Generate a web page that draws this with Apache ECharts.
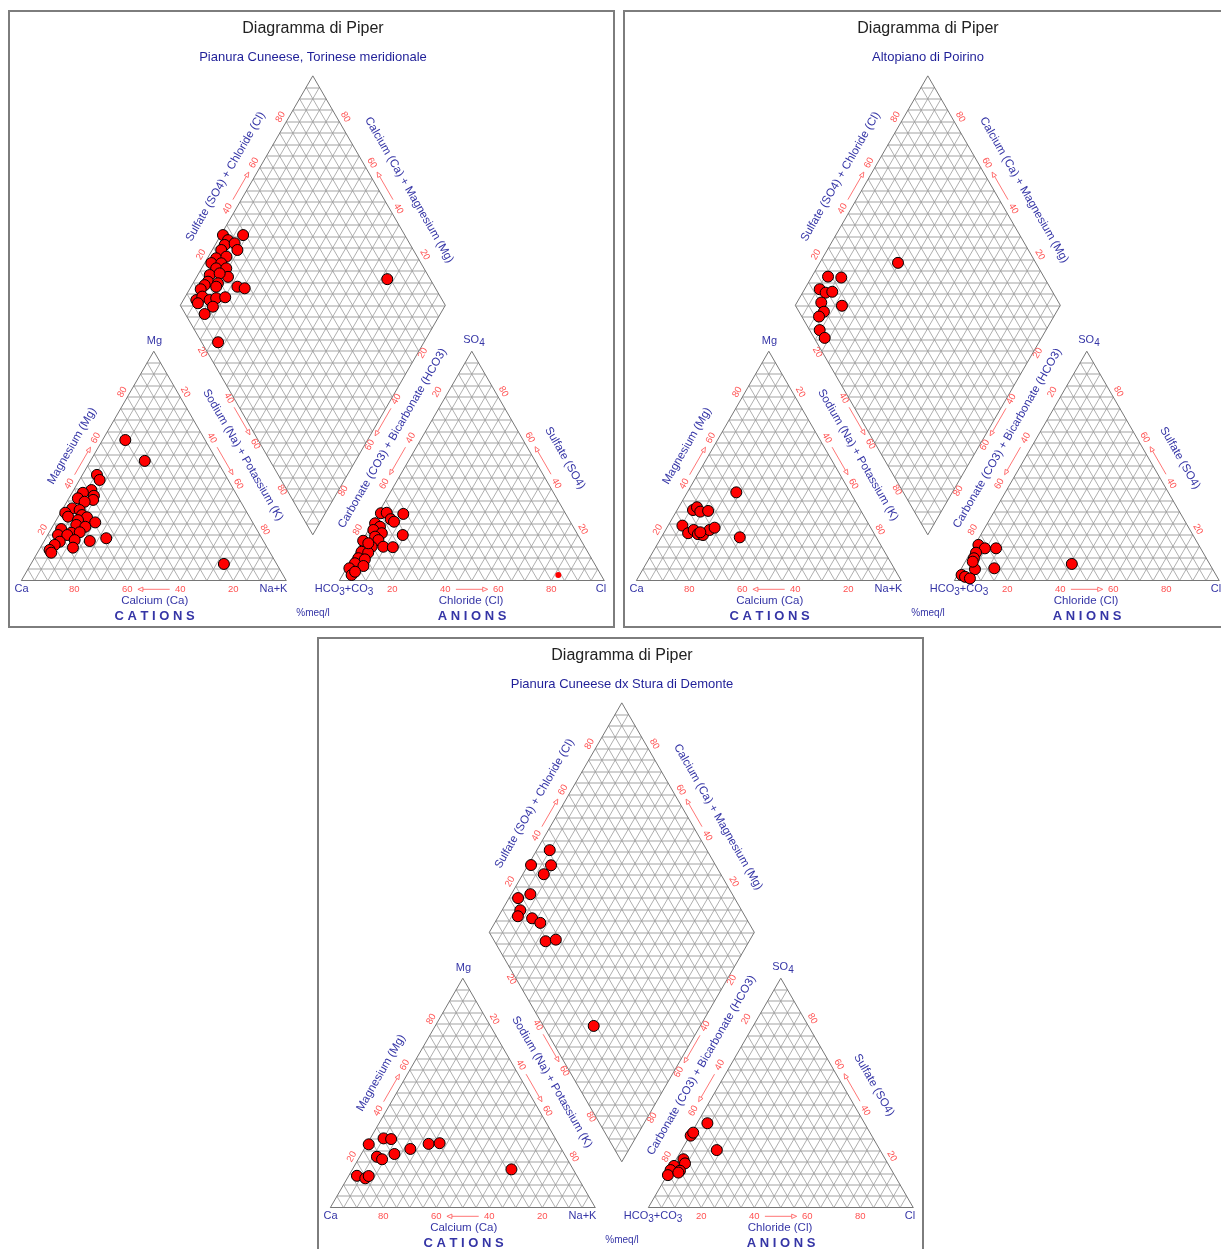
<!DOCTYPE html>
<html><head><meta charset="utf-8">
<script src="https://cdn.jsdelivr.net/npm/echarts@6/dist/echarts.min.js"></script>
<style>html,body{margin:0;padding:0;background:#fff}#c{width:1221px;height:1249px}</style>
</head><body><div id="c"></div>
<script>
// ---------------- DATA ----------------
const panelTitle = 'Diagramma di Piper';
const panelSubtitles = ['Pianura Cuneese, Torinese meridionale', 'Altopiano di Poirino', 'Pianura Cuneese dx Stura di Demonte'];
const tickValues = [20, 40, 60, 80];

// Cations: [Ca %, Mg %, Na+K %]
const cationsP1 = [[30.1,61.3,8.6],[27.3,52.2,20.5],[48.4,46.1,5.5],[48.5,43.9,7.6],[53.8,39.5,6.7],[54.1,37.0,8.9],[55.3,35.2,9.5],[57.6,38.3,4.1],[60.7,35.9,3.4],[58.9,34.4,6.7],[65.0,31.5,3.5],[68.6,29.6,1.8],[68.4,27.9,3.7],[62.6,30.8,6.6],[62.8,28.6,8.6],[61.4,27.6,11.0],[65.4,26.4,8.2],[59.4,25.4,15.2],[67.1,24.3,8.6],[64.1,23.5,12.4],[73.7,22.5,3.8],[70.7,20.9,8.4],[67.4,21.1,11.5],[76.2,19.9,3.9],[72.7,19.9,7.4],[71.0,17.7,11.3],[65.5,17.3,17.2],[58.7,18.5,22.8],[77.0,17.0,6.0],[79.6,15.6,4.8],[73.3,14.4,12.3],[82.6,13.4,4.0],[82.6,12.2,5.2],[19.9,7.3,72.8]];
const cationsP2 = [[43.0,38.5,18.5],[63.2,30.8,6.0],[61.1,32.0,6.9],[60.8,30.1,9.1],[57.7,30.4,11.9],[70.6,24.0,5.4],[70.1,20.7,9.2],[67.3,22.1,10.6],[66.6,20.3,13.1],[64.9,19.9,15.2],[61.3,22.1,16.6],[58.9,23.1,18.0],[51.5,18.9,29.6],[65.3,21.1,13.6]];
const cationsP3 = [[71.7,27.6,0.7],[64.8,30.2,5.0],[62.1,29.9,8.0],[71.3,22.2,6.5],[69.9,21.1,9.0],[64.1,23.4,12.5],[57.0,25.6,17.4],[49.0,27.8,23.2],[44.7,28.1,27.2],[83.0,13.9,3.1],[80.4,12.8,6.8],[78.6,13.8,7.6],[23.3,16.7,60.0]];

// Anions: [HCO3+CO3 %, SO4 %, Cl %]
const anionsP1 = [[69.6,29.4,1.0],[67.3,29.6,3.1],[67.2,26.8,6.0],[66.5,25.7,7.8],[61.3,29.1,9.6],[66.1,19.9,14.0],[74.0,25.0,1.0],[72.9,23.5,3.6],[76.1,22.1,1.8],[73.6,20.7,5.7],[76.9,19.2,3.9],[82.3,17.4,0.3],[76.4,17.7,5.9],[76.0,14.8,9.2],[72.5,14.6,12.9],[80.4,14.8,4.8],[85.3,12.6,2.1],[83.0,12.2,4.8],[87.9,9.8,2.3],[85.7,9.3,5.0],[90.3,7.6,2.1],[87.7,6.4,5.9],[93.5,5.4,1.1],[94.1,2.5,3.4],[92.1,3.9,4.0],[80.9,16.3,2.8]];
const anionsP1Small = [[16.1,2.5,81.4]];
const anionsP2 = [[83.1,15.6,1.3],[81.4,14.1,4.5],[77.2,14.1,8.7],[85.7,12.2,2.1],[87.7,9.8,2.5],[89.7,5.0,5.3],[82.2,5.4,12.4],[96.0,2.5,1.5],[95.1,1.7,3.2],[93.6,1.0,5.4],[52.0,7.3,40.7],[88.9,8.3,2.8]];
const anionsP3 = [[59.3,36.8,3.9],[68.3,31.4,0.3],[66.7,32.7,0.6],[61.6,25.1,13.3],[76.2,21.1,2.7],[76.5,19.3,4.2],[81.2,18.2,0.6],[83.4,16.4,0.2],[80.0,16.1,3.9],[85.5,14.2,0.3],[81.0,15.3,3.7]];

// Diamond: [Ca+Mg %, SO4+Cl %]
const diamondP1 = [[91.6,39.0],[99.2,31.4],[96.2,32.2],[96.4,29.9],[93.0,34.0],[90.5,33.6],[96.6,27.5],[96.7,23.8],[93.2,28.0],[97.5,20.9],[93.7,24.6],[94.5,21.6],[90.7,25.4],[88.2,24.2],[95.5,17.7],[92.1,21.8],[94.7,15.6],[90.6,19.0],[95.2,13.6],[82.5,25.6],[79.4,28.0],[95.8,11.2],[90.5,17.6],[95.1,7.2],[93.6,10.2],[90.1,12.2],[88.0,15.1],[84.8,18.7],[93.8,7.1],[87.4,12.0],[88.9,7.3],[77.7,6.2],[27.6,83.8]];
const diamondP2 = [[70.5,48.0],[93.9,18.6],[88.7,23.4],[94.3,12.7],[91.3,14.2],[89.0,16.9],[90.8,10.4],[82.3,17.5],[87.8,9.4],[88.6,6.5],[85.4,3.8],[81.8,4.0]];
const diamondP3 = [[95.1,40.7],[98.9,30.4],[91.3,37.9],[92.1,33.2],[92.8,23.8],[96.6,18.3],[93.1,16.5],[92.7,14.3],[86.9,19.2],[82.8,21.3],[76.8,19.3],[73.3,23.5],[40.2,19.0]];

// ---------------- LAYOUT ----------------
const H = Math.sqrt(3) / 2;
const S = 2.65;                 // pixels per percent
const BX = 21.3, BY = 580.7;    // Ca corner of cation triangle, panel-local
const YMAX = H * 220;
const PANELS = [{ox:0, oy:0}, {ox:615, oy:0}, {ox:309, oy:627}];
const FF = '"Liberation Sans", Arial, Helvetica, sans-serif';
const BLUE = '#3535a6', NAVY = '#1f1f98', RED = '#ff5252';

const catXY = d => [d[2] + d[1] / 2, H * d[1]];
const anXY = d => [120 + d[2] + d[1] / 2, H * d[1]];
const diaXY = d => [110 - d[0] / 2 + d[1] / 2, H * (20 + d[0] + d[1])];

const datasets = [
  {cat: cationsP1, an: anionsP1, anSmall: anionsP1Small, dia: diamondP1},
  {cat: cationsP2, an: anionsP2, anSmall: [], dia: diamondP2},
  {cat: cationsP3, an: anionsP3, anSmall: [], dia: diamondP3}
];

// grid mesh (structure)
function meshSegments() {
  const diag = [], hor = [], border = [];
  [0, 120].forEach(x0 => {
    for (let p = 5; p < 100; p += 5) {
      hor.push([[x0 + p / 2, H * p], [x0 + 100 - p / 2, H * p]]);
      diag.push([[x0 + p, 0], [x0 + 50 + p / 2, H * (100 - p)]]);
      diag.push([[x0 + p, 0], [x0 + p / 2, H * p]]);
    }
    border.push([[x0, 0], [x0 + 100, 0]], [[x0, 0], [x0 + 50, H * 100]], [[x0 + 100, 0], [x0 + 50, H * 100]]);
  });
  for (let p = 5; p < 100; p += 5) {
    diag.push([[110 + p / 2, H * (20 + p)], [60 + p / 2, H * (120 + p)]]);
    diag.push([[110 - p / 2, H * (20 + p)], [160 - p / 2, H * (120 + p)]]);
  }
  for (let L = 5; L < 200; L += 5) {
    const hw = L <= 100 ? L / 2 : (200 - L) / 2;
    hor.push([[110 - hw, H * (20 + L)], [110 + hw, H * (20 + L)]]);
  }
  border.push([[110, H * 20], [60, H * 120]], [[110, H * 20], [160, H * 120]], [[60, H * 120], [110, H * 220]], [[160, H * 120], [110, H * 220]]);
  return {diag, hor, border};
}
const mesh = meshSegments();

const series = [];
function pushLines(i, segs, color, width, z) {
  series.push({type:'lines', coordinateSystem:'cartesian2d', xAxisIndex:i, yAxisIndex:i, polyline:false, silent:true, z,
    lineStyle:{color, width, opacity:1}, effect:{show:false}, data: segs.map(c => ({coords:c}))});
}
function pushPoints(i, pts, size, bw) {
  series.push({type:'scatter', xAxisIndex:i, yAxisIndex:i, silent:true, z:10, clip:false, symbol:'circle', symbolSize:size,
    itemStyle:{color:'#ff0000', borderColor:'#000', borderWidth:bw, opacity:1}, data: pts});
}
PANELS.forEach((p, i) => {
  pushLines(i, mesh.hor, '#c2c2c2', 1.5, 1);
  pushLines(i, mesh.diag, '#9a9a9a', 0.8, 2);
  pushLines(i, mesh.border, '#767676', 1, 3);
  const d = datasets[i];
  pushPoints(i, d.cat.map(catXY), 11, 1);
  pushPoints(i, d.an.map(anXY), 11, 1);
  if (d.anSmall.length) pushPoints(i, d.anSmall.map(anXY), 6, 0);
  pushPoints(i, d.dia.map(diaXY), 11, 1);
});

// ---------------- TEXT / DECORATION ----------------
const G = [];
function T(x, y, text, o) {
  o = o || {};
  const el = {type:'text', x, y, rotation:(o.rot || 0) * Math.PI / 180, silent:true, z:100,
    style:{text, fill:o.color || BLUE, font:o.font || ('11px ' + FF), align:'center', textAlign:'center', verticalAlign:'middle', textVerticalAlign:'middle'}};
  if (o.rich) el.style.rich = o.rich;
  G.push(el);
}
function A(x1, y1, x2, y2) {
  const dx = x2 - x1, dy = y2 - y1, L = Math.hypot(dx, dy), ux = dx / L, uy = dy / L, hl = 5, hw = 2.2;
  G.push({type:'line', silent:true, z:100, shape:{x1, y1, x2:x2 - ux * hl, y2:y2 - uy * hl}, style:{stroke:RED, lineWidth:0.8}});
  G.push({type:'polygon', silent:true, z:100, shape:{points:[[x2, y2], [x2 - ux * hl - uy * hw, y2 - uy * hl + ux * hw], [x2 - ux * hl + uy * hw, y2 - uy * hl - ux * hw]]}, style:{fill:'#fff', stroke:RED, lineWidth:0.8}});
}
const edges = [
  {f:p => [100 - p, 0], off:[0, 8.6], rot:0},
  {f:p => [p / 2, H * p], off:[-5, -5], rot:60},
  {f:p => [50 + p / 2, H * (100 - p)], off:[5, -5], rot:-60},
  {f:p => [120 + p, 0], off:[0, 8.6], rot:0},
  {f:p => [220 - p / 2, H * p], off:[5, -5.5], rot:-60},
  {f:p => [170 - p / 2, H * (100 - p)], off:[-8, -5], rot:60},
  {f:p => [60 + p / 2, H * (120 + p)], off:[-5.7, -4.7], rot:60},
  {f:p => [160 - p / 2, H * (120 + p)], off:[6, -4.7], rot:-60},
  {f:p => [60 + p / 2, H * (120 - p)], off:[-4.5, 1], rot:-60},
  {f:p => [160 - p / 2, H * (120 - p)], off:[4, 2], rot:60}
];
const sub = {b:{fontSize:11, fontFamily:FF, fill:BLUE, lineHeight:14, verticalAlign:'top'}, s:{fontSize:10, fontFamily:FF, fill:BLUE, lineHeight:14, verticalAlign:'bottom'}};

PANELS.forEach((pn, i) => {
  const ox = pn.ox, oy = pn.oy;
  const U = (X, Y) => [ox + BX + S * X, oy + BY - S * Y];
  G.push({type:'rect', silent:true, z:0, shape:{x:ox + 9, y:oy + 11, width:605, height:616}, style:{fill:'rgba(0,0,0,0)', stroke:'#7d7d7d', lineWidth:2}});
  T(ox + 313, oy + 29, panelTitle, {color:'#222', font:'16px ' + FF});
  T(ox + 313, oy + 57, panelSubtitles[i], {color:NAVY, font:'13px ' + FF});
  edges.forEach(e => {
    const pos = p => { const q = U(...e.f(p)); return [q[0] + e.off[0], q[1] + e.off[1]]; };
    tickValues.forEach(v => { const q = pos(v); T(q[0], q[1], String(v), {color:RED, font:'9.5px ' + FF, rot:e.rot}); });
    const a = pos(40), b = pos(60);
    A(a[0] + 0.2 * (b[0] - a[0]), a[1] + 0.2 * (b[1] - a[1]), a[0] + 0.8 * (b[0] - a[0]), a[1] + 0.8 * (b[1] - a[1]));
  });
  // corner labels
  T(ox + 154.5, oy + 341, 'Mg');
  T(ox + 21.5, oy + 589, 'Ca');
  T(ox + 273.5, oy + 589, 'Na+K');
  T(ox + 474, oy + 341, '{b|SO}{s|4}', {rich:sub});
  T(ox + 344, oy + 590, '{b|HCO}{s|3}{b|+CO}{s|3}', {rich:sub});
  T(ox + 601, oy + 589, 'Cl');
  // axis names
  const nf = '11.5px ' + FF;
  T(ox + 154.7, oy + 600.7, 'Calcium (Ca)', {font:nf});
  T(ox + 471, oy + 600.7, 'Chloride (Cl)', {font:nf});
  T(ox + 72, oy + 446, 'Magnesium (Mg)', {font:nf, rot:60});
  T(ox + 243, oy + 455, 'Sodium (Na) + Potassium (K)', {font:nf, rot:-60});
  T(ox + 225.5, oy + 176.7, 'Sulfate (SO4) + Chloride (Cl)', {font:nf, rot:60});
  T(ox + 409, oy + 190, 'Calcium (Ca) + Magnesium (Mg)', {font:nf, rot:-60});
  T(ox + 392.5, oy + 438.3, 'Carbonate (CO3) + Bicarbonate (HCO3)', {font:nf, rot:60});
  T(ox + 565, oy + 458, 'Sulfate (SO4)', {font:nf, rot:-60});
  T(ox + 154.5, oy + 616, 'C A T I O N S', {font:'bold 13px ' + FF});
  T(ox + 472, oy + 616, 'A N I O N S', {font:'bold 13px ' + FF});
  T(ox + 313, oy + 613, '%meq/l', {font:'10px ' + FF});
});

const chart = echarts.init(document.getElementById('c'), null, {renderer:'canvas', width:1221, height:1249});
chart.setOption({
  animation:false,
  backgroundColor:'#ffffff',
  grid: PANELS.map(p => ({left:p.ox + BX, top:p.oy + BY - S * YMAX, width:S * 220, height:S * YMAX, containLabel:false})),
  xAxis: PANELS.map((p, i) => ({type:'value', gridIndex:i, min:0, max:220, show:false})),
  yAxis: PANELS.map((p, i) => ({type:'value', gridIndex:i, min:0, max:YMAX, show:false})),
  series,
  graphic:{elements:G}
});
</script></body></html>
